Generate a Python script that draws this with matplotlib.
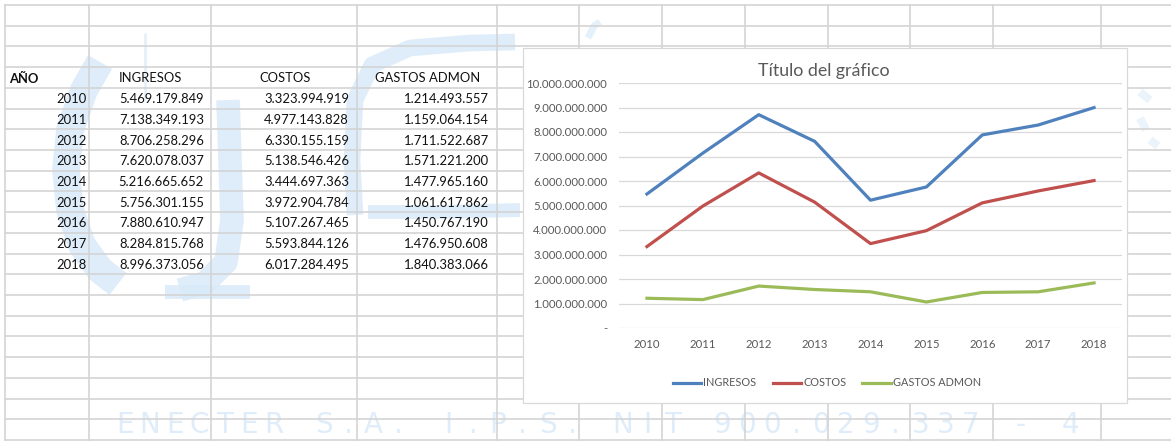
import matplotlib
matplotlib.use("Agg")
import matplotlib.pyplot as plt
from matplotlib.patches import Rectangle
import numpy as np

# ---------------- data ----------------
years = [2010, 2011, 2012, 2013, 2014, 2015, 2016, 2017, 2018]
ingresos = [5469179849, 7138349193, 8706258296, 7620078037, 5216665652,
            5756301155, 7880610947, 8284815768, 8996373056]
costos = [3323994919, 4977143828, 6330155159, 5138546426, 3444697363,
          3972904784, 5107267465, 5593844126, 6017284495]
gastos_admon = [1214493557, 1159064154, 1711522687, 1571221200, 1477965160,
                1061617862, 1450767190, 1476950608, 1840383066]
headers = ["AÑO", "INGRESOS", "COSTOS", "GASTOS ADMON"]
series_names = ["INGRESOS", "COSTOS", "GASTOS ADMON"]
chart_title = "Título del gráfico"
watermark_text = "ENECTER S.A. I.P.S. NIT 900.029.337 - 4"

plt.rcParams['font.family'] = ['Lato', 'DejaVu Sans']

W, H = 1171, 441
fig = plt.figure(figsize=(W / 100, H / 100), dpi=100)
fig.patch.set_facecolor("white")

bg = fig.add_axes([0, 0, 1, 1])
bg.set_xlim(0, W)
bg.set_ylim(H, 0)
bg.axis("off")


def fmt(v):
    return f"{v:,}".replace(",", ".")


# ---------------- watermark (pale logo) ----------------
wm = "#d9eaf8"
def stroke(pts, lw, a=0.85):
    p = np.array(pts, dtype=float)
    bg.plot(p[:, 0], p[:, 1], color=wm, lw=lw, solid_capstyle="butt",
            solid_joinstyle="round", zorder=0, alpha=a)

stroke([(100, 62), (84, 90), (70, 130), (66, 170), (70, 210), (82, 245), (100, 270), (118, 284)], 20)
stroke([(145, 33), (145, 100)], 2, 0.7)
stroke([(228, 100), (230, 160), (232, 220), (226, 262), (205, 283), (180, 290)], 17)
stroke([(165, 292), (250, 292)], 10)
stroke([(355, 215), (352, 160), (355, 100), (372, 65), (410, 48), (470, 43), (515, 42)], 12)
stroke([(368, 212), (440, 212), (520, 210)], 10)
stroke([(588, 38), (594, 26), (600, 22)], 5, 0.7)
stroke([(1140, 92), (1150, 100)], 6, 0.5)
stroke([(1140, 118), (1146, 130)], 6, 0.5)
stroke([(1150, 140), (1158, 146)], 6, 0.5)

n = len(watermark_text)
x0, x1 = 125, 1070
for i, ch in enumerate(watermark_text):
    bg.text(x0 + i * (x1 - x0) / (n - 1), 433, ch, fontsize=20, family="DejaVu Sans",
            color="#dfedfa", ha="center", va="baseline", zorder=0)

# ---------------- spreadsheet grid ----------------
grid_c = "#d4d4d4"
row_h = 20.714
row_lines = [5 + k * row_h for k in range(22)]
col_lines = [5, 89, 211, 357, 497, 579, 662, 745, 828, 910, 993, 1101]
for y in row_lines:
    bg.plot([5, W], [y, y], color=grid_c, lw=1.2, zorder=1)
for x in col_lines:
    bg.plot([x, x], [5, H], color=grid_c, lw=1.2, zorder=1)

# ---------------- table text ----------------
tfs = 9.4
tc = "#111111"
def rc(k):
    return 5 + (k + 0.5) * row_h + 1

bg.text(9, rc(3), headers[0], fontsize=tfs, fontweight="bold", color=tc, ha="left", va="center", zorder=2)
bg.text(119, rc(3), headers[1], fontsize=tfs, color=tc, ha="left", va="center", zorder=2)
bg.text(259, rc(3), headers[2], fontsize=tfs, color=tc, ha="left", va="center", zorder=2)
bg.text(375, rc(3), headers[3], fontsize=tfs, color=tc, ha="left", va="center", zorder=2)
for i, yr in enumerate(years):
    yy = rc(4 + i)
    bg.text(87, yy, str(yr), fontsize=tfs, color=tc, ha="right", va="center", zorder=2)
    bg.text(204, yy, fmt(ingresos[i]), fontsize=tfs, color=tc, ha="right", va="center", zorder=2)
    bg.text(349, yy, fmt(costos[i]), fontsize=tfs, color=tc, ha="right", va="center", zorder=2)
    bg.text(489, yy, fmt(gastos_admon[i]), fontsize=tfs, color=tc, ha="right", va="center", zorder=2)

# ---------------- chart box ----------------
bg.add_patch(Rectangle((523, 48), 1127 - 523, 403 - 48, facecolor="white",
                       edgecolor="#d9d9d9", lw=0.9, zorder=5))

# ---------------- chart ----------------
px_l, px_r, px_t, px_b = 619, 1122, 83, 328
ax = fig.add_axes([px_l / W, (H - px_b) / H, (px_r - px_l) / W, (px_b - px_t) / H])
ax.set_facecolor("none")
x = np.arange(len(years))
colors = ["#4F81BD", "#C0504D", "#9BBB59"]
for vals, name, c in zip([ingresos, costos, gastos_admon], series_names, colors):
    ax.plot(x, vals, color=c, lw=2.3, label=name, solid_joinstyle="round", zorder=3)
ax.set_xlim(-0.5, len(years) - 0.5)
ax.set_ylim(0, 1e10)
yt = np.arange(0, 1e10 + 1, 1e9)
ax.set_yticks(yt)
ax.set_yticklabels(["-" if v == 0 else fmt(int(v)) for v in yt])
ax.set_xticks(x)
ax.set_xticklabels([str(y) for y in years])
ax.tick_params(axis="both", length=0, labelsize=8.2, labelcolor="#595959")
ax.tick_params(axis="y", pad=8.4)
ax.tick_params(axis="x", pad=8)
ax.yaxis.grid(True, color="#d9d9d9", lw=0.9)
ax.set_axisbelow(True)
for s in ax.spines.values():
    s.set_visible(False)

fig.text(824 / W, 1 - 71 / H, chart_title, fontsize=12.8, color="#595959",
         ha="center", va="center")

handles, labels = ax.get_legend_handles_labels()
fig.legend(handles, labels, loc="center", bbox_to_anchor=(827 / W, 1 - 383 / H),
           ncol=3, frameon=False, fontsize=7.8, labelcolor="#595959",
           handlelength=2.6, handletextpad=0.2, columnspacing=1.5)

fig.savefig("out.png", dpi=100)
